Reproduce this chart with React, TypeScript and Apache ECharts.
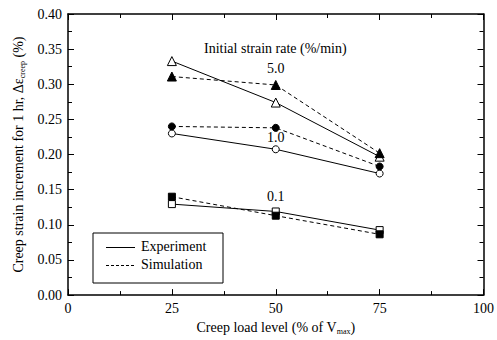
import React, { useEffect, useRef } from "react";
import * as echarts from "echarts";

const loadLevels = [25, 50, 75];
const exp50 = [0.333, 0.274, 0.197];
const sim50 = [0.311, 0.299, 0.202];
const exp10 = [0.23, 0.2075, 0.173];
const sim10 = [0.24, 0.238, 0.183];
const exp01 = [0.1295, 0.119, 0.0925];
const sim01 = [0.14, 0.113, 0.0865];
const rateLabels = ["5.0", "1.0", "0.1"];
const yTicks = [0, 0.05, 0.1, 0.15, 0.2, 0.25, 0.3, 0.35, 0.4];

const FONT = "Liberation Serif";

export default function App() {
  const ref = useRef<HTMLDivElement>(null);
  useEffect(() => {
    if (!ref.current) return;
    document.body.style.margin = "0";
    const chart = echarts.init(ref.current, undefined, { renderer: "svg" });
    const pts = (vals: number[], labelIdx: number | null, label: string, dist: number) =>
      vals.map((v, i) => {
        const item: any = { value: [loadLevels[i], v] };
        if (labelIdx === i) {
          item.label = {
            show: true,
            position: "top",
            distance: dist,
            formatter: label,
            fontFamily: FONT,
            fontSize: 14,
            color: "#000",
          };
        }
        return item;
      });
    const mk = (
      vals: number[],
      symbol: string,
      size: number,
      filled: boolean,
      dashed: boolean,
      labelIdx: number | null,
      label: string,
      dist = 4
    ) => ({
      type: "line",
      data: pts(vals, labelIdx, label, dist),
      symbol,
      symbolSize: size,
      showAllSymbol: true,
      z: filled ? 4 : 3,
      lineStyle: { color: "#000", width: 1, type: dashed ? [4, 3] : "solid" },
      itemStyle: { color: filled ? "#000" : "#fff", borderColor: "#000", borderWidth: 1 },
      emphasis: { disabled: true },
    });
    const axisCommon = {
      min: 0,
      axisLine: { show: true, onZero: false, lineStyle: { color: "#000", width: 1.5 } },
      axisTick: { show: true, inside: true, length: 6, lineStyle: { color: "#000", width: 1 } },
      minorTick: { show: true, splitNumber: 2, length: 4, lineStyle: { color: "#000", width: 1 } },
      splitLine: { show: false },
    };
    const richName = {
      a: { fontFamily: FONT, fontSize: 14, color: "#000" },
      s: { fontFamily: FONT, fontSize: 8, color: "#000", padding: [8, 0, 0, 0] },
    };
    chart.setOption({
      animation: false,
      textStyle: { fontFamily: FONT },
      grid: { left: 68, right: 12, top: 14, bottom: 42, containLabel: false },
      xAxis: [
        {
          ...axisCommon,
          type: "value",
          max: 100,
          interval: 25,
          axisLabel: { fontFamily: FONT, fontSize: 14, color: "#000", margin: 6 },
          name: "{a|Creep load level (% of V}{s|max}{a|)}",
          nameLocation: "middle",
          nameGap: 20,
          nameTextStyle: { fontFamily: FONT, fontSize: 14, rich: richName },
        },
        {
          ...axisCommon,
          type: "value",
          position: "top",
          max: 100,
          interval: 25,
          axisLabel: { show: false },
        },
      ],
      yAxis: [
        {
          ...axisCommon,
          type: "value",
          max: 0.4,
          interval: 0.05,
          axisLabel: {
            fontFamily: FONT,
            fontSize: 14,
            color: "#000",
            margin: 6,
            formatter: (v: number) => {
              const t = yTicks.find((x) => Math.abs(x - v) < 1e-9);
              return (t ?? v).toFixed(2);
            },
          },
          name: "{a|Creep strain increment for 1 hr, Δε}{s|creep}{a| (%)}",
          nameLocation: "middle",
          nameGap: 41,
          nameRotate: 90,
          nameTextStyle: { fontFamily: FONT, fontSize: 14, rich: richName },
        },
        {
          ...axisCommon,
          type: "value",
          position: "right",
          max: 0.4,
          interval: 0.05,
          axisLabel: { show: false },
        },
      ],
      series: [
        mk(exp50, "triangle", 9, false, false, null, ""),
        mk(sim50, "triangle", 9, true, true, 1, rateLabels[0]),
        mk(exp10, "circle", 7, false, false, 1, rateLabels[1], 1),
        mk(sim10, "circle", 7, true, true, null, ""),
        mk(exp01, "rect", 7, false, false, 1, rateLabels[2]),
        mk(sim01, "rect", 7, true, true, null, ""),
      ],
      graphic: [
        {
          type: "text",
          left: 204,
          top: 41,
          style: { text: "Initial strain rate (%/min)", fontFamily: FONT, fontSize: 14, fill: "#000" },
        },
        {
          type: "rect",
          shape: { x: 93, y: 233, width: 130, height: 50 },
          style: { fill: "#fff", stroke: "#000", lineWidth: 1 },
          z: 10,
        },
        {
          type: "line",
          shape: { x1: 106, y1: 247.5, x2: 135, y2: 247.5 },
          style: { stroke: "#000", lineWidth: 1 },
          z: 11,
        },
        {
          type: "line",
          shape: { x1: 106, y1: 265.5, x2: 135, y2: 265.5 },
          style: { stroke: "#000", lineWidth: 1, lineDash: [3, 2] },
          z: 11,
        },
        {
          type: "text",
          left: 141,
          top: 239,
          style: { text: "Experiment", fontFamily: FONT, fontSize: 14, fill: "#000" },
          z: 11,
        },
        {
          type: "text",
          left: 141,
          top: 257,
          style: { text: "Simulation", fontFamily: FONT, fontSize: 14, fill: "#000" },
          z: 11,
        },
      ],
    });
    return () => chart.dispose();
  }, []);
  return <div ref={ref} style={{ width: 497, height: 340 }} />;
}
